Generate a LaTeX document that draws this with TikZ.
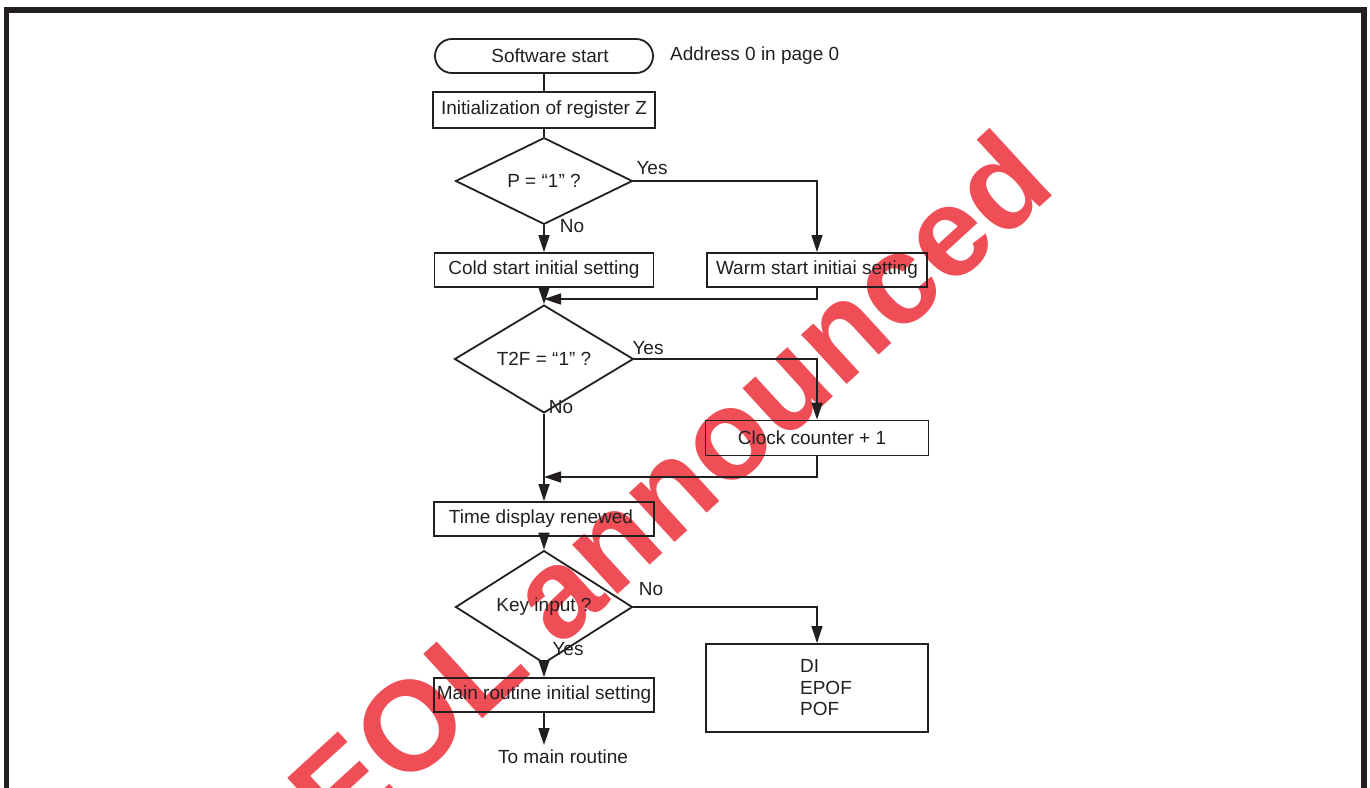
\documentclass[tikz,border=0pt]{standalone}
\usepackage{fontspec}
\setmainfont{Liberation Sans}
\usetikzlibrary{shapes.geometric,arrows.meta}
\definecolor{ink}{RGB}{35,31,32}
\definecolor{wmred}{RGB}{236,28,40}
\begin{document}
\begin{tikzpicture}[x=1pt,y=-1pt,
  txt/.style={text=ink,font=\fontsize{19}{21.5}\selectfont},
  box/.style={txt,draw=ink,line width=1.8pt,inner sep=0pt,minimum height=34pt},
  startbox/.style={box,rounded corners=17pt},
  dec/.style={txt,diamond,draw=ink,line width=1.8pt,inner sep=0pt},
  lbl/.style={txt,inner sep=0pt},
  conn/.style={draw=ink,line width=1.5pt},
  arr/.style={conn,-{Triangle[length=17pt,width=11pt]}},
  wmark/.style={text=wmred,opacity=0.78,inner sep=0pt,font=\fontsize{127}{127}\selectfont\bfseries}
]
\useasboundingbox (0,0) rectangle (1370,787);
% watermark
\node[wmark,rotate=42.5] (wm) at (669,486) {EOL announced};
% frame
\draw[ink,line width=5.5pt,line join=miter] (6.5,790) -- (6.5,10) -- (1364,10) -- (1364,790);

% nodes
\node[startbox,minimum width=218pt] (st) at (544,56) {\hspace*{12pt}Software start};
\node[lbl,anchor=west] (addr) at (670,56) {Address 0 in page 0};
\node[box,minimum width=222pt,minimum height=36pt] (init) at (544,110) {Initialization of register Z};
\node[dec,minimum width=177pt,minimum height=68pt] (d1) at (544,181) {P = “1” ?};
\node[box,minimum width=219pt] (cold) at (544,270) {Cold start initial setting};
\node[box,minimum width=220pt] (warm) at (817,270) {Warm start initiai setting};
\node[dec,minimum width=179pt,minimum height=68pt] (d2) at (544,359) {T2F = “1” ?};
\node[box,minimum width=223pt,minimum height=35pt] (clk) at (817,438) {Clock counter + 1\hspace*{10pt}};
\node[box,minimum width=220pt] (tim) at (544,519) {Time display renewed\hspace*{6pt}};
\node[dec,minimum width=177pt,minimum height=67pt] (d3) at (544,607) {Key input ?};
\node[box,minimum width=222pt,minimum height=88pt,align=left] (di) at (817,688) {\hspace*{18pt}DI\\\hspace*{18pt}EPOF\\\hspace*{18pt}POF};
\node[box,minimum width=220pt] (main) at (544,695) {Main routine initial setting};
\node[lbl] (tomain) at (563,757) {To main routine};

\node[lbl] (y1) at (652,168) {Yes};
\node[lbl] (n1) at (572,226) {No};
\node[lbl] (y2) at (648,348) {Yes};
\node[lbl] (n2) at (561,407) {No};
\node[lbl] (n3) at (651,589) {No};
\node[lbl] (y3) at (568,649) {Yes};

\coordinate (m1) at (544,299);
\coordinate (m2) at (544,477);
\coordinate (endp) at (544,745);

% connectors
\draw[conn] (st) -- (init);
\draw[conn] (init) -- (d1);
\draw[arr] (d1) -- (cold);
\draw[arr] (d1.east) -| (warm.north);
\draw[arr] (cold) -- (d2);
\draw[arr] (warm.south) |- (m1);
\draw[arr] (d2.east) -| (clk.north);
\draw[arr] (d2) -- (tim);
\draw[arr] (clk.south) |- (m2);
\draw[arr] (tim) -- (d3);
\draw[arr] (d3.east) -| (di.north);
\draw[arr] (d3) -- (main);
\draw[arr] (main) -- (endp);
\end{tikzpicture}
\end{document}
